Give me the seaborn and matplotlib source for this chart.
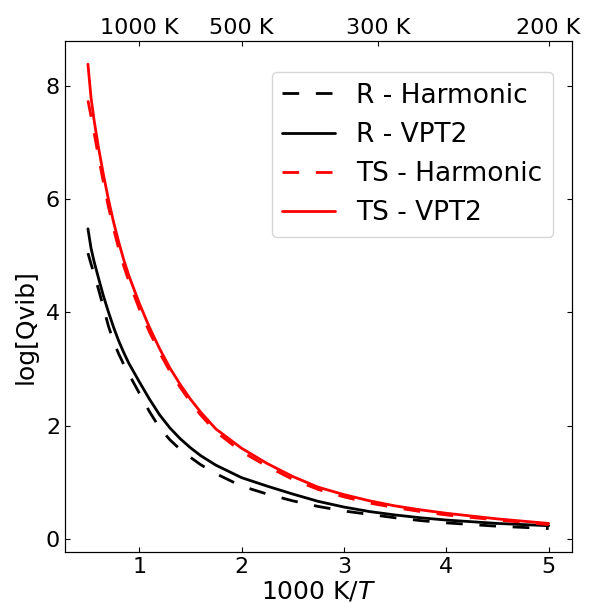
import matplotlib
matplotlib.use("Agg")
import matplotlib.pyplot as plt
import seaborn as sns

# ================================================
# DATA
# ================================================
inv_t = [0.50, 0.53, 0.56, 0.60, 0.65, 0.70, 0.75, 0.80, 0.85, 0.90,
         1.00, 1.10, 1.20, 1.30, 1.40, 1.50, 1.60, 1.75, 2.00, 2.25,
         2.50, 2.75, 3.00, 3.25, 3.50, 3.75, 4.00, 4.50, 5.00]

r_harmonic = [5.05, 4.86, 4.68, 4.43, 4.10, 3.76, 3.49, 3.27, 3.08, 2.91,
              2.58, 2.25, 1.96, 1.75, 1.58, 1.44, 1.31, 1.15, 0.93, 0.79,
              0.67, 0.57, 0.49, 0.43, 0.37, 0.32, 0.28, 0.22, 0.18]
r_vpt2 = [5.48, 5.14, 4.90, 4.63, 4.30, 4.01, 3.74, 3.50, 3.29, 3.10,
          2.78, 2.47, 2.19, 1.96, 1.77, 1.61, 1.47, 1.30, 1.08, 0.93,
          0.79, 0.66, 0.56, 0.48, 0.42, 0.37, 0.33, 0.27, 0.23]
ts_harmonic = [7.75, 7.47, 7.18, 6.78, 6.31, 5.87, 5.48, 5.13, 4.82, 4.55,
               4.07, 3.66, 3.29, 2.96, 2.68, 2.42, 2.19, 1.89, 1.54, 1.28,
               1.05, 0.87, 0.74, 0.63, 0.55, 0.48, 0.42, 0.33, 0.25]
ts_vpt2 = [8.39, 7.80, 7.40, 6.95, 6.45, 6.00, 5.60, 5.25, 4.93, 4.65,
           4.17, 3.74, 3.36, 3.02, 2.73, 2.47, 2.24, 1.94, 1.60, 1.33,
           1.10, 0.91, 0.78, 0.67, 0.58, 0.51, 0.45, 0.35, 0.27]

top_ticks = [1.0, 2.0, 1000 / 300, 5.0]
top_labels = ['1000 K', '500 K', '300 K', '200 K']

# ================================================
# PLOT
# ================================================
sns.set_style("ticks")
plt.rcParams['font.family'] = ['DejaVu Sans']
plt.rcParams['axes.linewidth'] = 0.8
plt.rcParams['axes.edgecolor'] = 'black'
plt.rcParams['text.color'] = 'black'
plt.rcParams['axes.labelcolor'] = 'black'
plt.rcParams['xtick.color'] = 'black'
plt.rcParams['ytick.color'] = 'black'

fig, ax = plt.subplots(figsize=(5.9, 6.03), dpi=100)
fig.subplots_adjust(left=0.110, right=0.969, bottom=0.085, top=0.932)

series = [
    (r_harmonic, 'R - Harmonic', 'black', (0, (6, 6))),
    (r_vpt2, 'R - VPT2', 'black', '-'),
    (ts_harmonic, 'TS - Harmonic', 'red', (0, (6, 6))),
    (ts_vpt2, 'TS - VPT2', 'red', '-'),
]
for vals, name, col, ls in series:
    sns.lineplot(x=inv_t, y=vals, color=col, linestyle=ls, linewidth=2,
                 label=name, legend=False, ax=ax)

ax.set_xticks([1, 2, 3, 4, 5])
ax.set_yticks([0, 2, 4, 6, 8])
ax.tick_params(direction='in', labelsize=16, right=True, top=False)
ax.set_xlabel('1000 K/$T$', fontsize=18, labelpad=2)
ax.set_ylabel('log[Qvib]', fontsize=18, labelpad=6)
ax.yaxis.label.set_y(0.44)

ax.legend(fontsize=19, loc='upper right', bbox_to_anchor=(0.963, 0.939),
          borderaxespad=0, fancybox=True)

# top axis with temperatures
ax2 = ax.twiny()
ax2.set_xlim(ax.get_xlim())
ax2.set_xticks(top_ticks)
ax2.set_xticklabels(top_labels)
ax2.tick_params(direction='in', labelsize=16, pad=2)

plt.savefig('out.png', dpi=100)
